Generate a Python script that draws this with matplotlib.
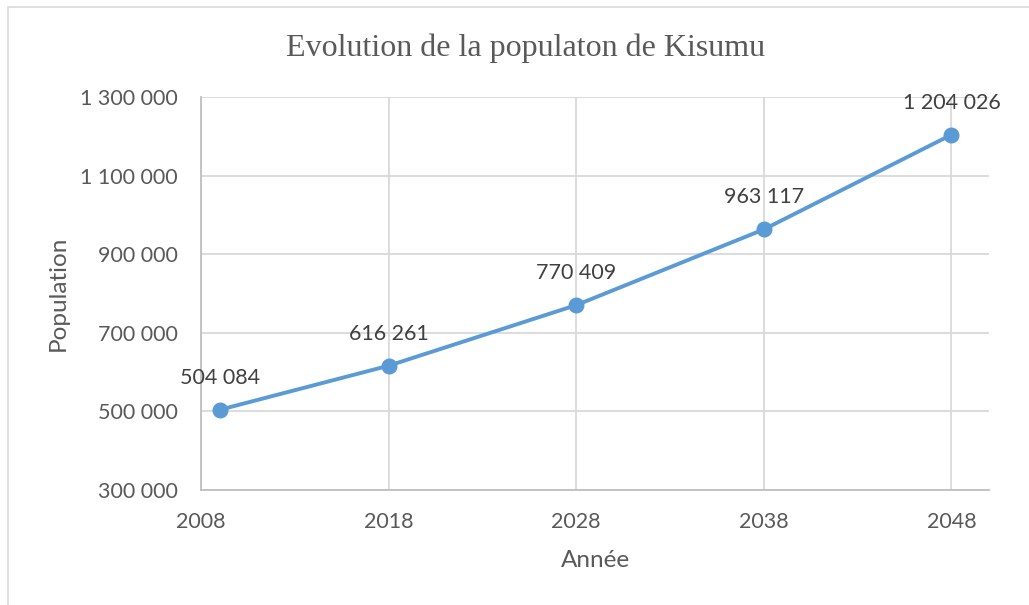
import matplotlib
matplotlib.use("Agg")
import matplotlib.pyplot as plt
from matplotlib.patches import Rectangle
from matplotlib.ticker import FuncFormatter

years = [2009, 2018, 2028, 2038, 2048]
population = [504084, 616261, 770409, 963117, 1204026]

x_ticks = [2008, 2018, 2028, 2038, 2048]
y_ticks = [300000, 500000, 700000, 900000, 1100000, 1300000]

blue = '#5B9BD5'
text_col = '#595959'
grid_col = '#D9D9D9'


def spaced(v, pos=None):
    return '{:,.0f}'.format(v).replace(',', ' ')


plt.rcParams['font.family'] = ['Lato', 'DejaVu Sans']

W, H = 1029, 605
fig = plt.figure(figsize=(W / 100, H / 100), dpi=100)
ax = fig.add_axes([201 / W, 1 - 490 / H, (989 - 201) / W, (490 - 97) / H])

ax.plot(years, population, color=blue, lw=2.8, marker='o', ms=10.5,
        solid_capstyle='round', zorder=3, clip_on=False)

for x, y in zip(years, population):
    ax.annotate(spaced(y), xy=(x, y), xytext=(0, 23), textcoords='offset points',
                ha='center', va='center', fontsize=15.5, color='#404040')

ax.set_xlim(2008, 2050)
ax.set_ylim(300000, 1300000)
ax.set_xticks(x_ticks)
ax.set_yticks(y_ticks)
ax.yaxis.set_major_formatter(FuncFormatter(spaced))

ax.grid(True, color=grid_col, lw=1.3, zorder=0)
ax.set_axisbelow(True)
for side in ['top', 'right']:
    ax.spines[side].set_visible(False)
for side in ['left', 'bottom']:
    ax.spines[side].set_color('#BFBFBF')
    ax.spines[side].set_linewidth(1.3)

ax.tick_params(length=0, labelsize=15.5, labelcolor=text_col)
ax.tick_params(axis='y', pad=17)
ax.tick_params(axis='x', pad=16)

ax.set_xlabel('Année', fontsize=17.5, color=text_col, labelpad=13)
ax.set_ylabel('Population', fontsize=17.5, color=text_col, labelpad=8)

fig.text(526 / W, 1 - 48 / H, 'Evolution de la populaton de Kisumu',
         family='Liberation Serif', fontsize=23, color=text_col,
         ha='center', va='center')

# chart border
fig.patches.append(Rectangle((8 / W, -0.1), 1.2, 1 - 7 / H + 0.1,
                             transform=fig.transFigure, fill=False,
                             edgecolor='#D9D9D9', lw=1.2))

fig.savefig('out.png', dpi=100)
